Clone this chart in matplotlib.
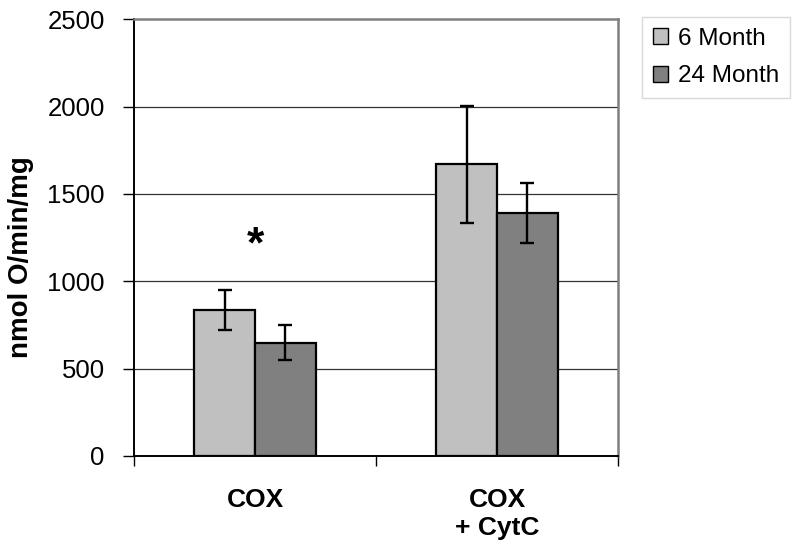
import numpy as np
import matplotlib
matplotlib.use('Agg')
import matplotlib.pyplot as plt

plt.rcParams['font.family'] = ['Liberation Sans', 'DejaVu Sans']

categories = ['COX', 'COX\n+ CytC']
series = ['6 Month', '24 Month']
means_6 = [835, 1670]
err_6 = [112, 335]
means_24 = [648, 1390]
err_24 = [100, 173]
colors = ['#c0c0c0', '#808080']
yticks = [0, 500, 1000, 1500, 2000, 2500]

fig = plt.figure(figsize=(8, 5.56), dpi=100)
ax = fig.add_axes([0.1675, 0.18, 0.605, 0.7855])

x = np.arange(len(categories))
w = 0.252
bars1 = ax.bar(x - w/2, means_6, w, color=colors[0], edgecolor='black', linewidth=1.6,
               label=series[0], zorder=3)
bars2 = ax.bar(x + w/2, means_24, w, color=colors[1], edgecolor='black', linewidth=1.6,
               label=series[1], zorder=3)
ax.errorbar(x - w/2, means_6, yerr=err_6, fmt='none', ecolor='black', elinewidth=1.7,
            capsize=5, capthick=1.7, zorder=4)
ax.errorbar(x + w/2, means_24, yerr=err_24, fmt='none', ecolor='black', elinewidth=1.7,
            capsize=5, capthick=1.7, zorder=4)

# significance mark
ax.text(x[0], 1200, '*', ha='center', va='center', fontsize=32, fontweight='bold')

ax.set_xlim(-0.5, 1.5)
ax.set_ylim(0, 2500)
ax.set_yticks(yticks)
ax.set_yticklabels([str(t) for t in yticks], fontsize=18.5)
for t in yticks[1:-1]:
    ax.axhline(t, color='#333333', linewidth=0.9, zorder=1)

ax.set_xticks([-0.5, 0.5, 1.5])
ax.set_xticklabels([])
ax.tick_params(axis='x', direction='out', length=7, width=1)
ax.tick_params(axis='y', direction='out', length=8, width=1, pad=13)
for xi, lab in zip(x, categories):
    ax.text(xi, -185, lab, ha='center', va='top', fontsize=19, fontweight='bold',
            linespacing=1.2)

ax.spines['left'].set_color('black')
ax.spines['bottom'].set_color('black')
ax.spines['left'].set_linewidth(1.4)
ax.spines['bottom'].set_linewidth(1.4)
ax.spines['top'].set_color('#808080')
ax.spines['right'].set_color('#808080')
ax.spines['top'].set_linewidth(1.8)
ax.spines['right'].set_linewidth(1.8)

ax.set_ylabel('nmol O/min/mg', fontsize=20, fontweight='bold')
ax.yaxis.set_label_coords(-0.207, 0.455)

leg = fig.legend(handles=[bars1, bars2], labels=series, loc='upper left',
                 bbox_to_anchor=(0.803, 0.97), fontsize=17.5, frameon=True,
                 fancybox=False, edgecolor='#d0d0d0', handlelength=0.6,
                 handleheight=0.6, handletextpad=0.4, borderpad=0.45, labelspacing=0.65,
                 borderaxespad=0.0)
for h in leg.legend_handles:
    h.set_linewidth(1.0)

fig.savefig('out.png', dpi=100)
